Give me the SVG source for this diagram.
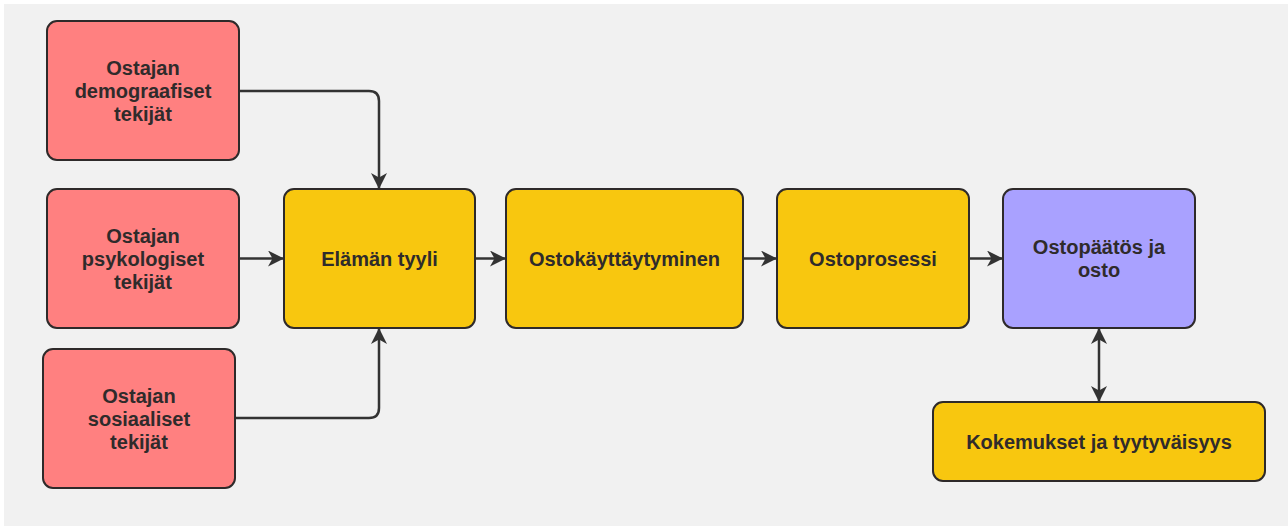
<svg xmlns="http://www.w3.org/2000/svg" width="1288" height="526" viewBox="0 0 1288 526">
  <style>
    .box { stroke: #2e2a2a; stroke-width: 2; }
    .factor { fill: #ff8080; }
    .stage { fill: #f8c70f; }
    .decision { fill: #a9a1ff; }
    .label { font-family: "Liberation Sans", Arial, sans-serif; font-size: 20px; font-weight: bold; fill: #2f2b2b; text-anchor: middle; }
    .link { fill: none; stroke: #333333; stroke-width: 2.5; }
  </style>
  <defs>
    <marker id="arrow" viewBox="0 0 16 16" refX="15" refY="8" markerWidth="16" markerHeight="16" markerUnits="userSpaceOnUse" orient="auto-start-reverse">
      <path d="M0,0 L16,8 L0,16 L4.5,8 Z" fill="#333333"/>
    </marker>
  </defs>

  <rect x="4" y="4" width="1284" height="522" fill="#f1f1f1"/>

  <g id="connectors">
    <path class="link" d="M239,91 H369 Q379,91 379,101 V188" marker-end="url(#arrow)"/>
    <path class="link" d="M239,258.5 H283" marker-end="url(#arrow)"/>
    <path class="link" d="M235,418 H369 Q379,418 379,408 V329" marker-end="url(#arrow)"/>
    <path class="link" d="M475,258.5 H505" marker-end="url(#arrow)"/>
    <path class="link" d="M743,258.5 H776" marker-end="url(#arrow)"/>
    <path class="link" d="M969,258.5 H1002" marker-end="url(#arrow)"/>
    <path class="link" d="M1099,329 V401" marker-start="url(#arrow)" marker-end="url(#arrow)"/>
  </g>

  <g id="demografiset">
    <rect class="box factor" x="47" y="21" width="192" height="139" rx="10"/>
    <text class="label" x="143" y="74.5">Ostajan</text>
    <text class="label" x="143" y="97.5">demograafiset</text>
    <text class="label" x="143" y="120.5">tekijät</text>
  </g>

  <g id="psykologiset">
    <rect class="box factor" x="47" y="189" width="192" height="139" rx="10"/>
    <text class="label" x="143" y="242.5">Ostajan</text>
    <text class="label" x="143" y="265.5">psykologiset</text>
    <text class="label" x="143" y="288.5">tekijät</text>
  </g>

  <g id="sosiaaliset">
    <rect class="box factor" x="43" y="349" width="192" height="139" rx="10"/>
    <text class="label" x="139" y="402.5">Ostajan</text>
    <text class="label" x="139" y="425.5">sosiaaliset</text>
    <text class="label" x="139" y="448.5">tekijät</text>
  </g>

  <g id="elaman-tyyli">
    <rect class="box stage" x="284" y="189" width="191" height="139" rx="10"/>
    <text class="label" x="379.5" y="265.5">Elämän tyyli</text>
  </g>

  <g id="ostokayttaytyminen">
    <rect class="box stage" x="506" y="189" width="237" height="139" rx="10"/>
    <text class="label" x="624.5" y="265.5">Ostokäyttäytyminen</text>
  </g>

  <g id="ostoprosessi">
    <rect class="box stage" x="777" y="189" width="192" height="139" rx="10"/>
    <text class="label" x="873" y="265.5">Ostoprosessi</text>
  </g>

  <g id="ostopaatos">
    <rect class="box decision" x="1003" y="189" width="192" height="139" rx="10"/>
    <text class="label" x="1099" y="254">Ostopäätös ja</text>
    <text class="label" x="1099" y="277">osto</text>
  </g>

  <g id="kokemukset">
    <rect class="box stage" x="933" y="402" width="332" height="79" rx="10"/>
    <text class="label" x="1099" y="448.5">Kokemukset ja tyytyväisyys</text>
  </g>
</svg>
